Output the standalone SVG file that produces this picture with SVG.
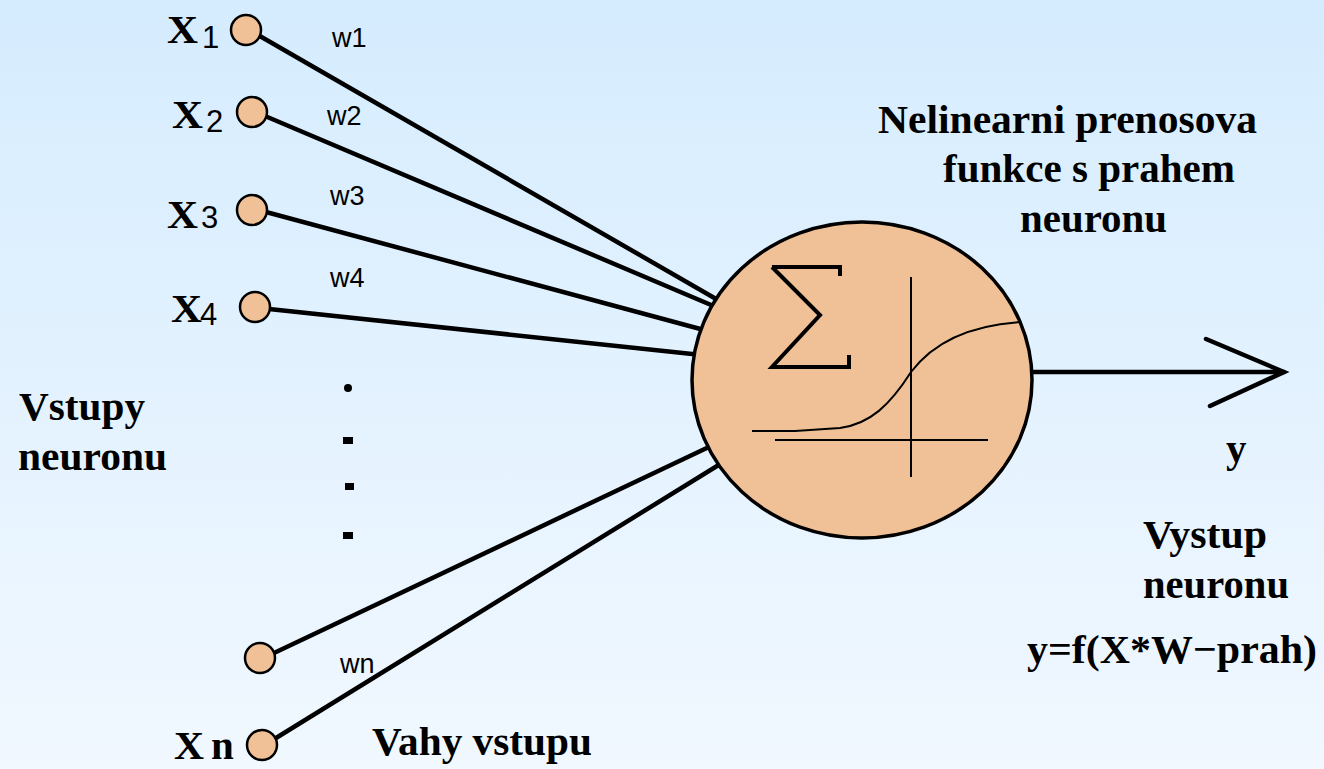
<svg xmlns="http://www.w3.org/2000/svg" width="1324" height="769" viewBox="0 0 1324 769">
<defs>
<linearGradient id="bg" x1="0" y1="0" x2="0" y2="1">
<stop offset="0" stop-color="#D5ECFE"/>
<stop offset="1" stop-color="#F1F8FF"/>
</linearGradient>
</defs>
<style>
.inp{fill:#F0C096;stroke:#000;stroke-width:2.5}
.wire{stroke:#000;stroke-width:4.5;fill:none;stroke-linecap:round}
.thin{stroke:#000;stroke-width:2;fill:none}
.big{font-family:"Liberation Serif","Times New Roman",serif;font-weight:bold;font-size:41px;fill:#000}
.sub{font-family:"Liberation Sans",Arial,sans-serif;font-size:31px;fill:#000}
.w{font-family:"Liberation Sans",Arial,sans-serif;font-size:27px;fill:#000}
</style>
<rect x="0" y="0" width="1324" height="769" fill="url(#bg)"/>
<g id="connectors">
<line class="wire" x1="258" y1="35" x2="730" y2="307"/>
<line class="wire" x1="265" y1="116" x2="730" y2="313"/>
<line class="wire" x1="266" y1="212" x2="730" y2="337"/>
<line class="wire" x1="269" y1="309" x2="730" y2="358"/>
<line class="wire" x1="274" y1="653" x2="730" y2="437"/>
<line class="wire" x1="276" y1="738" x2="730" y2="458"/>
<line class="wire" x1="1030" y1="372" x2="1284" y2="372"/>
<polyline class="wire" points="1206,339 1284,372 1210,406" stroke-linejoin="miter"/>
</g>
<g id="neuron">
<ellipse cx="862" cy="380" rx="170" ry="158" fill="#F0C096" stroke="#000" stroke-width="3.5"/>
<path d="M772,267 L840,267 L840,276 M772,267 L820,315 L772,367 L849,367 L849,355" fill="none" stroke="#000" stroke-width="4" stroke-linejoin="miter"/>
<line class="thin" x1="911" y1="277" x2="911" y2="477"/>
<line class="thin" x1="775" y1="440" x2="988" y2="440"/>
<path class="thin" d="M752,431 L795,431 L840,428 C870,424 890,405 911,372 C935,340 975,325 1020,322"/>
</g>
<g id="dots">
<circle cx="348" cy="388" r="4"/>
<rect x="343" y="437" width="10" height="7"/>
<rect x="345" y="483" width="9" height="7"/>
<rect x="343" y="532" width="10" height="7"/>
</g>
<g id="x1">
<circle class="inp" cx="246" cy="30" r="15"/>
<text class="big" x="167" y="43" font-size="44" textLength="31" lengthAdjust="spacingAndGlyphs">X</text>
<text class="sub" x="202" y="48">1</text>
<text class="w" x="332" y="47">w1</text>
</g>
<g id="x2">
<circle class="inp" cx="252" cy="112" r="15"/>
<text class="big" x="172" y="128" font-size="44" textLength="31" lengthAdjust="spacingAndGlyphs">X</text>
<text class="sub" x="206" y="132">2</text>
<text class="w" x="327" y="125">w2</text>
</g>
<g id="x3">
<circle class="inp" cx="252" cy="210" r="15"/>
<text class="big" x="167" y="228" font-size="44" textLength="31" lengthAdjust="spacingAndGlyphs">X</text>
<text class="sub" x="201" y="228">3</text>
<text class="w" x="330" y="205">w3</text>
</g>
<g id="x4">
<circle class="inp" cx="255" cy="307" r="15"/>
<text class="big" x="171" y="322" font-size="44" textLength="31" lengthAdjust="spacingAndGlyphs">X</text>
<text class="sub" x="200" y="325">4</text>
<text class="w" x="330" y="287">w4</text>
</g>
<g id="x5">
<circle class="inp" cx="260" cy="658" r="15"/>
<text class="w" x="340" y="673">wn</text>
</g>
<g id="xn">
<circle class="inp" cx="262" cy="745" r="15"/>
<text class="big" x="174" y="759" font-size="40" textLength="30" lengthAdjust="spacingAndGlyphs">X</text>
<text class="big" x="211" y="759" font-size="23" font-weight="normal">n</text>
</g>
<g id="labels">
<text class="big" x="19" y="420" textLength="126" lengthAdjust="spacingAndGlyphs">Vstupy</text>
<text class="big" x="18" y="470" textLength="149" lengthAdjust="spacingAndGlyphs">neuronu</text>
<text class="big" x="878" y="133" textLength="379" lengthAdjust="spacingAndGlyphs">Nelinearni prenosova</text>
<text class="big" x="943" y="182" textLength="292" lengthAdjust="spacingAndGlyphs">funkce s prahem</text>
<text class="big" x="1020" y="232" textLength="147" lengthAdjust="spacingAndGlyphs">neuronu</text>
<text class="big" x="1226" y="462">y</text>
<text class="big" x="1143" y="548" textLength="124" lengthAdjust="spacingAndGlyphs">Vystup</text>
<text class="big" x="1143" y="598" textLength="146" lengthAdjust="spacingAndGlyphs">neuronu</text>
<text class="big" x="1027" y="663" textLength="290" lengthAdjust="spacingAndGlyphs">y=f(X*W−prah)</text>
<text class="big" x="372" y="755" textLength="220" lengthAdjust="spacingAndGlyphs">Vahy vstupu</text>
</g>
</svg>
